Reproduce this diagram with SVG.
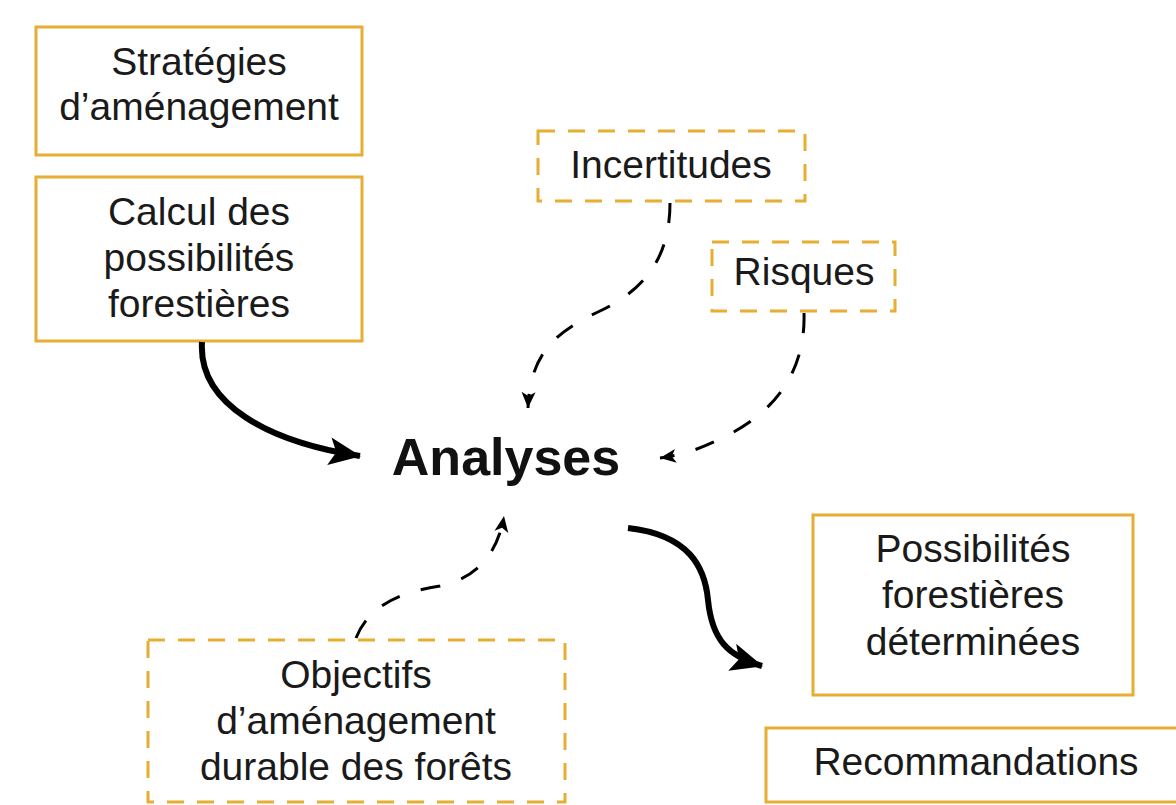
<svg xmlns="http://www.w3.org/2000/svg" width="1176" height="805" viewBox="0 0 1176 805">
<defs>
<style>
.box{fill:#fff;stroke:#E6AE32;stroke-width:3}
.dbox{fill:#fff;stroke:#E6AE32;stroke-width:3;stroke-dasharray:17 13}
.t{font-family:"Liberation Sans",Arial,sans-serif;font-size:39px;fill:#1a1a1a;text-anchor:middle}
.big{font-family:"Liberation Sans",Arial,sans-serif;font-size:52px;font-weight:bold;fill:#111;text-anchor:middle}
.solid{fill:none;stroke:#000;stroke-width:6}
.dash{fill:none;stroke:#000;stroke-width:3;stroke-dasharray:20 22}
</style>
<marker id="ah" markerUnits="userSpaceOnUse" markerWidth="36" markerHeight="32" refX="31" refY="14" orient="auto">
<path d="M0,0 L32,14 L0,28 L7,14 Z" fill="#000"/>
</marker>
<marker id="ahs" markerUnits="userSpaceOnUse" markerWidth="20" markerHeight="16" refX="16" refY="7" orient="auto">
<path d="M0,0 L16,7 L0,14 L4,7 Z" fill="#000"/>
</marker>
</defs>
<rect width="1176" height="805" fill="#fff"/>
<g id="n-strategies">
<rect class="box" x="36" y="27" width="326" height="128"/>
<text class="t" x="199" y="75">Stratégies</text>
<text class="t" x="199" y="120">d’aménagement</text>
</g>
<g id="n-calcul">
<rect class="box" x="36" y="177" width="326" height="164"/>
<text class="t" x="199" y="225">Calcul des</text>
<text class="t" x="199" y="271">possibilités</text>
<text class="t" x="199" y="317">forestières</text>
</g>
<g id="n-incertitudes">
<rect class="dbox" x="538" y="131" width="267" height="70"/>
<text class="t" x="671" y="178">Incertitudes</text>
</g>
<g id="n-risques">
<rect class="dbox" x="712" y="242" width="183" height="69"/>
<text class="t" x="804" y="285">Risques</text>
</g>
<g id="n-analyses">
<text class="big" x="506" y="475">Analyses</text>
</g>
<g id="n-objectifs">
<rect class="dbox" x="148" y="640" width="417" height="162"/>
<text class="t" x="356" y="688">Objectifs</text>
<text class="t" x="356" y="734">d’aménagement</text>
<text class="t" x="356" y="780">durable des forêts</text>
</g>
<g id="n-possibilites">
<rect class="box" x="813" y="515" width="320" height="180"/>
<text class="t" x="973" y="562">Possibilités</text>
<text class="t" x="973" y="608">forestières</text>
<text class="t" x="973" y="655">déterminées</text>
</g>
<g id="n-recommandations">
<rect class="box" x="766" y="728" width="420" height="74"/>
<text class="t" x="976" y="775">Recommandations</text>
</g>
<g id="connectors">
<path class="solid" d="M202,342 C198,405 270,442 360,456" marker-end="url(#ah)"/>
<path class="solid" d="M628,528 C690,535 705,568 708,600 C712,640 728,656 762,666" marker-end="url(#ah)"/>
<path class="dash" d="M670,203 C670,262 640,292 600,311 C560,330 530,350 528,408" marker-end="url(#ahs)"/>
<path class="dash" d="M804,313 C806,380 765,418 722,438 C700,449 682,455 660,458" marker-end="url(#ahs)"/>
<path class="dash" d="M356,638 C370,602 408,591 440,586 C478,578 498,552 504,516" marker-end="url(#ahs)"/>
</g>
</svg>
